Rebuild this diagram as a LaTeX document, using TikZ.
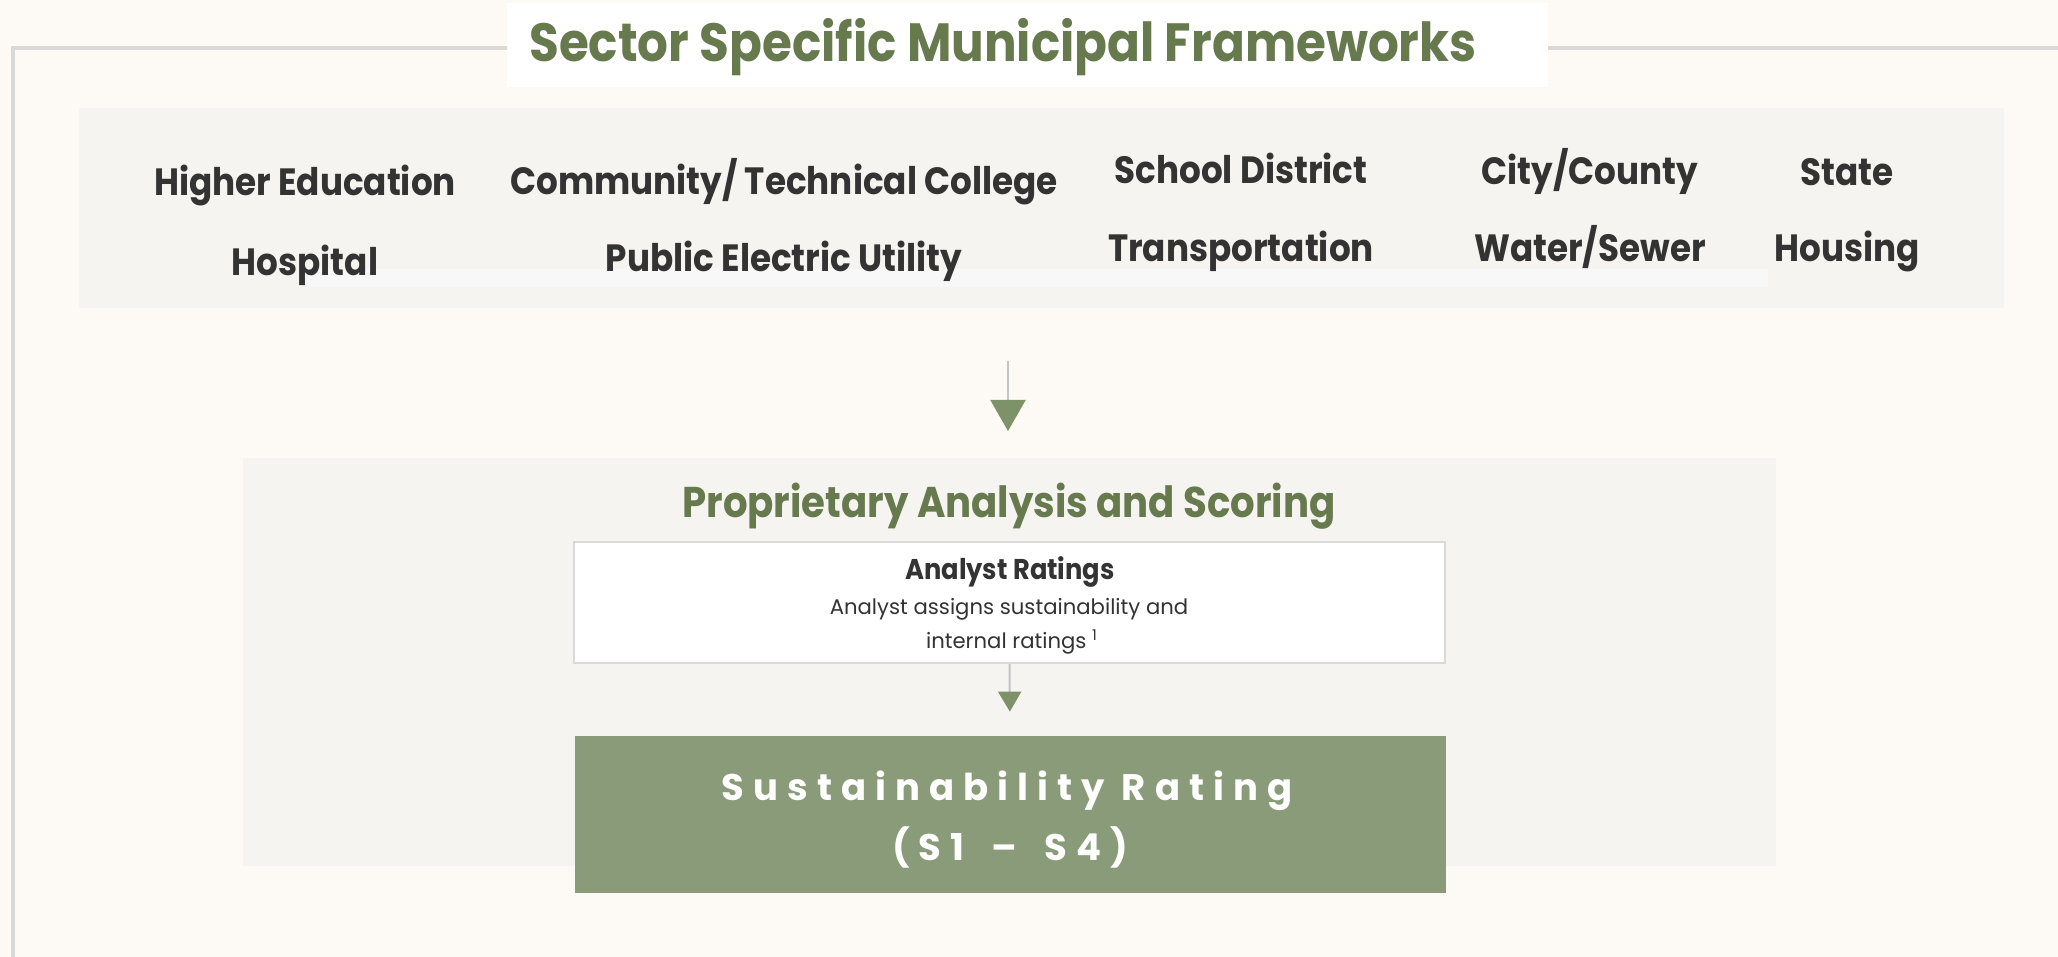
\documentclass[tikz,border=0pt]{standalone}
\usepackage{fontspec}
\setmainfont{Poppins}[FakeStretch=0.9]
\newfontfamily\regfont{Poppins}[FakeStretch=1.0]
\usetikzlibrary{arrows.meta}
\definecolor{bg}{HTML}{FDFAF6}
\definecolor{panel}{HTML}{F5F4F1}
\definecolor{band}{HTML}{F8F8F9}
\definecolor{frame}{HTML}{D9D9D9}
\definecolor{titlegreen}{HTML}{667A4E}
\definecolor{boxgreen}{HTML}{899B78}
\definecolor{tipgreen}{HTML}{7E9269}
\definecolor{txt}{HTML}{333333}
\definecolor{linegray}{HTML}{C4C4C4}
\tikzset{
  sector/.style={anchor=base, inner sep=0pt, text=txt, font=\fontsize{19}{23}\selectfont\bfseries},
  ratingtext/.style={anchor=base, inner sep=0pt, text=white, font=\regfont\fontsize{18.5}{22}\selectfont\bfseries\addfontfeature{LetterSpace=24.5}},
  conn/.style={draw=linegray, line width=1pt},
}
\begin{document}
\begin{tikzpicture}[x=0.5pt,y=-0.5pt]
\useasboundingbox (0,0) rectangle (2058,957);
\fill[bg] (0,0) rectangle (2058,957);
% frame
\draw[frame, line width=2pt] (13,957) -- (13,48) -- (2058,48);
% title box
\node[fill=white, inner sep=0pt, minimum width=520.5pt, minimum height=42pt] (titlebox) at (1027.5,45) {};
\node[anchor=base, inner sep=0pt, text=titlegreen, font=\fontsize{26.9}{32}\selectfont\bfseries] (title) at (1003,62) {Sector Specific Municipal Frameworks};
% top panel
\node[fill=panel, inner sep=0pt, minimum width=962.5pt, minimum height=100pt] (top) at (1041.5,208) {};
\fill[band] (308,269) rectangle (1768,287);
\node[sector] (he) at (305,196) {Higher Education};
\node[sector] (hos) at (305,276) {Hospital};
\node[sector] (ctc) at (784,195) {Community/ Technical College};
\node[sector] (peu) at (784,272) {Public Electric Utility};
\node[sector] (sd) at (1241,184) {School District};
\node[sector] (tr) at (1241,262) {Transportation};
\node[sector] (cc) at (1590,185) {City/County};
\node[sector] (ws) at (1590,262) {Water/Sewer};
\node[sector] (st) at (1847,186) {State};
\node[sector] (ho) at (1847,262) {Housing};
% middle panel
\node[fill=panel, inner sep=0pt, minimum width=766.5pt, minimum height=204pt] (mid) at (1009.5,662) {};
\node[anchor=base, inner sep=0pt, text=titlegreen, font=\fontsize{21.5}{25}\selectfont\bfseries] (pas) at (1009,517) {Proprietary Analysis and Scoring};
\node[draw=frame, line width=1pt, fill=white, inner sep=0pt, minimum width=435.5pt, minimum height=60.5pt] (analyst) at (1009.5,602.5) {};
\node[anchor=base, inner sep=0pt, text=txt, font=\fontsize{14.3}{17}\selectfont\bfseries] (ar) at (1010,579) {Analyst Ratings};
\node[anchor=base, inner sep=0pt, text=txt, font=\regfont\fontsize{10.6}{13}\selectfont] (ar1) at (1009,614) {Analyst assigns sustainability and};
\node[anchor=base, inner sep=0pt, text=txt, font=\regfont\fontsize{10.6}{13}\selectfont] (ar2) at (1012,648) {internal ratings \textsuperscript{1}};
% rating box
\node[fill=boxgreen, inner sep=0pt, minimum width=435.5pt, minimum height=78.5pt] (rating) at (1010,814.5) {};
\node[ratingtext] (sr1) at (1007,800) {Sustainability Rating};
\node[ratingtext] (sr2) at (1010,860) {(S1\hspace{5pt} – \hspace{5pt}S4)};
% connectors
\coordinate (a1s) at (1008,361);
\coordinate (a1e) at (1008,431);
\draw[conn, -{Triangle[width=17.5pt,length=15.5pt,color=tipgreen]}] (a1s) -- (a1e);
\draw[conn, shorten >=12pt, -{Triangle[width=11.5pt,length=10pt,color=tipgreen]}] (analyst.south) -- (rating.north);
\end{tikzpicture}
\end{document}
